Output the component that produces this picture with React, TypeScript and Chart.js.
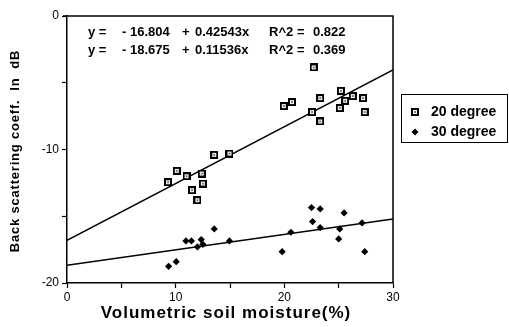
import React, { useEffect, useRef } from "react";
import { Chart, registerables } from "chart.js";

Chart.register(...registerables);

// ---- data ----
const deg20X = [9.3, 10.1, 11.0, 11.5, 12.0, 12.4, 12.5, 13.55, 14.95, 19.95, 20.7, 22.55, 22.7, 23.3, 23.3, 25.1, 25.2, 25.6, 26.3, 27.25, 27.4];
const deg20Y = [-12.45, -11.6, -12.0, -13.05, -13.8, -11.8, -12.55, -10.4, -10.3, -6.75, -6.45, -7.2, -3.85, -6.15, -7.9, -6.9, -5.6, -6.35, -6.0, -6.15, -7.2];

const deg30X = [9.35, 10.05, 10.95, 11.45, 12.0, 12.35, 12.5, 13.55, 14.95, 19.8, 20.6, 22.5, 22.6, 23.3, 23.3, 25.0, 25.1, 25.5, 27.15, 27.4];
const deg30Y = [-18.75, -18.4, -16.85, -16.85, -17.3, -16.75, -17.1, -15.95, -16.85, -17.65, -16.2, -14.35, -15.4, -14.45, -15.85, -16.7, -15.95, -14.75, -15.5, -17.65];

// regression coefficients [intercept, slope, R^2]
const fit20 = [-16.804, 0.42543, 0.822];
const fit30 = [-18.675, 0.11536, 0.369];
const fitRange = [0, 30];

const seriesNames = ["20 degree", "30 degree"];
const xTickLabels = [0, 10, 20, 30];
const yTickLabels = [0, -10, -20];

const FONT = '"Liberation Sans", Arial, sans-serif';

function makeSquareMarker(): HTMLCanvasElement {
  const c = document.createElement("canvas");
  c.width = 8;
  c.height = 8;
  const g = c.getContext("2d")!;
  g.fillStyle = "#000";
  g.fillRect(0, 0, 8, 8);
  g.fillStyle = "#fff";
  g.fillRect(2, 2, 4, 4);
  g.fillStyle = "#777";
  g.fillRect(3, 3, 2, 2);
  return c;
}

export default function App() {
  const ref = useRef<HTMLCanvasElement | null>(null);

  useEffect(() => {
    const canvas = ref.current;
    if (!canvas) return;
    const sq = makeSquareMarker();

    const lineData = (f: number[]) =>
      fitRange.map((x) => ({ x, y: f[0] + f[1] * x }));

    const overlay = {
      id: "overlay",
      afterDraw(chart: any) {
        const ctx = chart.ctx as CanvasRenderingContext2D;
        const a = chart.chartArea;
        ctx.save();
        // frame top & right
        ctx.strokeStyle = "#000";
        ctx.lineWidth = 1.5;
        ctx.beginPath();
        ctx.moveTo(a.left - 4, a.top);
        ctx.lineTo(a.right, a.top);
        ctx.lineTo(a.right, a.bottom);
        ctx.stroke();

        // equations
        ctx.fillStyle = "#000";
        ctx.textBaseline = "middle";
        ctx.textAlign = "left";
        ctx.font = `bold 13px ${FONT}`;
        const eq = (f: number[], y: number) => {
          ctx.fillText("y =", 88, y);
          ctx.fillText("-", 122, y);
          ctx.fillText(Math.abs(f[0]).toFixed(3), 130, y);
          ctx.fillText("+", 182, y);
          ctx.fillText(f[1].toFixed(5) + "x", 195, y);
          ctx.fillText("R^2", 269, y);
          ctx.fillText("=", 297, y);
          ctx.fillText(f[2].toFixed(3), 313, y);
        };
        eq(fit20, 32);
        eq(fit30, 50);

        // legend
        ctx.lineWidth = 1;
        ctx.strokeRect(401.5, 94.5, 106, 48);
        ctx.drawImage(sq, 411, 108);
        ctx.beginPath();
        ctx.moveTo(415, 128.5);
        ctx.lineTo(418.5, 132);
        ctx.lineTo(415, 135.5);
        ctx.lineTo(411.5, 132);
        ctx.closePath();
        ctx.fill();
        ctx.font = `bold 14px ${FONT}`;
        ctx.fillText(seriesNames[0], 431, 112);
        ctx.fillText(seriesNames[1], 431, 132);

        // axis titles
        ctx.font = `bold 17px ${FONT}`;
        (ctx as any).letterSpacing = "1px";
        ctx.textAlign = "center";
        ctx.fillText("Volumetric soil moisture(%)", 226, 313);
        ctx.save();
        ctx.translate(15, 151);
        ctx.rotate(-Math.PI / 2);
        ctx.font = `bold 13px ${FONT}`;
        (ctx as any).letterSpacing = "0.8px";
        ctx.fillText("Back scattering coeff.  In  dB", 0, 0);
        ctx.restore();
        (ctx as any).letterSpacing = "0px";
        ctx.restore();
      },
    };

    const chart = new Chart(canvas, {
      type: "scatter",
      data: {
        datasets: [
          {
            label: seriesNames[0],
            data: deg20X.map((x, i) => ({ x, y: deg20Y[i] })),
            pointStyle: sq as any,
            pointRadius: 4,
            showLine: false,
          },
          {
            label: seriesNames[1],
            data: deg30X.map((x, i) => ({ x, y: deg30Y[i] })),
            pointStyle: "rectRot",
            pointRadius: 3.6,
            backgroundColor: "#000",
            borderColor: "#000",
            borderWidth: 0,
            showLine: false,
          },
          {
            type: "line" as any,
            label: "fit20",
            data: lineData(fit20),
            borderColor: "#000",
            borderWidth: 1.5,
            pointRadius: 0,
            showLine: true,
          },
          {
            type: "line" as any,
            label: "fit30",
            data: lineData(fit30),
            borderColor: "#000",
            borderWidth: 1.5,
            pointRadius: 0,
            showLine: true,
          },
        ],
      },
      options: {
        animation: false,
        responsive: false,
        devicePixelRatio: 1,
        layout: { padding: { left: 0, top: 16, right: 116, bottom: 0 } },
        plugins: {
          legend: { display: false },
          tooltip: { enabled: false },
        },
        scales: {
          x: {
            type: "linear",
            min: 0,
            max: 30,
            afterFit: (s: any) => {
              s.height = 44;
            },
            ticks: {
              stepSize: 5,
              padding: 2,
              color: "#000",
              font: { family: FONT, size: 12 },
              maxRotation: 0,
              callback: (v: any) => (xTickLabels.includes(Number(v)) ? String(v) : ""),
            },
            grid: {
              drawOnChartArea: false,
              drawTicks: true,
              tickLength: 5,
              tickColor: "#000",
              tickWidth: 1.2,
            },
            border: { display: true, color: "#000", width: 1.5 },
          },
          y: {
            type: "linear",
            min: -20,
            max: 0,
            afterFit: (s: any) => {
              s.width = 67;
            },
            ticks: {
              stepSize: 5,
              padding: 3,
              color: "#000",
              font: { family: FONT, size: 12 },
              callback: (v: any) => (yTickLabels.includes(Number(v)) ? String(v) : ""),
            },
            grid: {
              drawOnChartArea: false,
              drawTicks: true,
              tickLength: 5,
              tickColor: "#000",
              tickWidth: 1.2,
            },
            border: { display: true, color: "#000", width: 1.5 },
          },
        },
      },
      plugins: [overlay],
    });
    return () => chart.destroy();
  }, []);

  return (
    <div style={{ position: "fixed", left: 0, top: 0, width: 509, height: 327, background: "#fff" }}>
      <canvas ref={ref} width={509} height={327} />
    </div>
  );
}
